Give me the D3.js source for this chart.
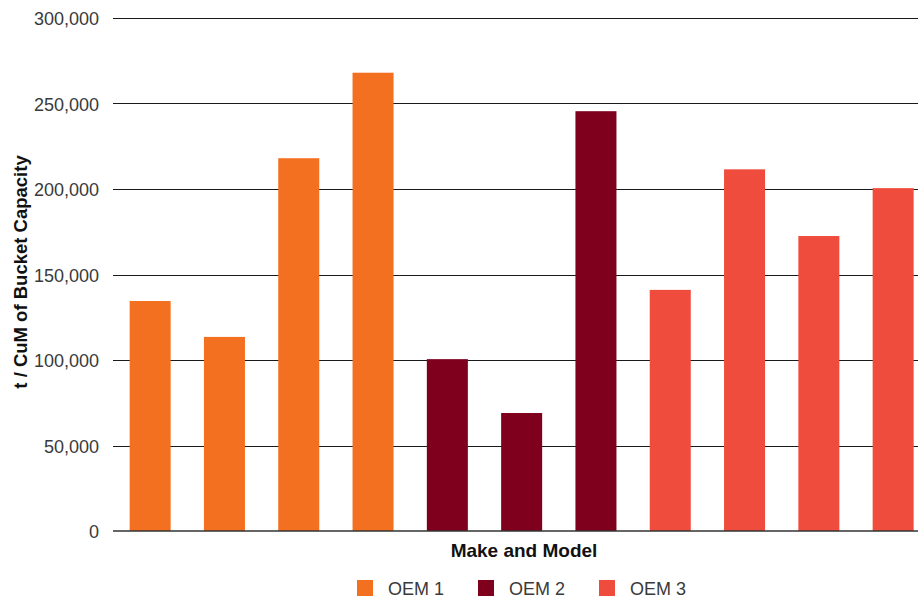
<!DOCTYPE html>
<html>
<head>
<meta charset="utf-8">
<script src="https://cdn.jsdelivr.net/npm/d3@7"></script>
<style>
  html, body { margin: 0; padding: 0; background: #fff; }
  svg { display: block; font-family: "Liberation Sans", Arial, Helvetica, sans-serif; }
</style>
</head>
<body>
<svg id="chart" width="918" height="598"></svg>
<script>
const categories = ["A1", "A2", "A3", "A4", "B1", "B2", "B3", "C1", "C2", "C3", "C4"];
const groups = ["OEM 1", "OEM 1", "OEM 1", "OEM 1", "OEM 2", "OEM 2", "OEM 2", "OEM 3", "OEM 3", "OEM 3", "OEM 3"];
const values = [134500, 113500, 218000, 268000, 100500, 69000, 245500, 141000, 211500, 172500, 200500];
const seriesNames = ["OEM 1", "OEM 2", "OEM 3"];
const seriesColors = ["#F37021", "#7F001C", "#EF4C3D"];
const yTicks = [0, 50000, 100000, 150000, 200000, 250000, 300000];
const xTitle = "Make and Model";
const yTitle = "t / CuM of Bucket Capacity";

const svg = d3.select("#chart");
const W = 918, H = 598;
const mLeft = 113, mTop = 18, mBottom = 531;
const step = 74.3;

const x = d3.scaleBand()
  .domain(categories)
  .range([mLeft, mLeft + categories.length * step])
  .paddingInner(0.448)
  .paddingOuter(0.224);
const y = d3.scaleLinear().domain([0, 300000]).range([mBottom, mTop]);
const color = d3.scaleOrdinal().domain(seriesNames).range(seriesColors);

// gridlines
const grid = svg.append("g");
grid.selectAll("line")
  .data(yTicks.filter(d => d > 0))
  .join("line")
  .attr("x1", mLeft).attr("x2", W)
  .attr("y1", d => Math.round(y(d)) + 0.5)
  .attr("y2", d => Math.round(y(d)) + 0.5)
  .attr("stroke", "#1a1a1a")
  .attr("stroke-width", 1.2);

// y axis labels
const yAxis = d3.axisLeft(y).tickValues(yTicks).tickSize(0).tickPadding(0)
  .tickFormat(d3.format(","));
const yg = svg.append("g").attr("transform", `translate(${mLeft - 14},0)`).call(yAxis);
yg.select(".domain").remove();
yg.selectAll("text")
  .attr("font-size", 18)
  .attr("fill", "#3a3a3a")
  .attr("dy", "0.38em")
  .attr("font-family", "'Liberation Sans', Arial, sans-serif");

// bars
svg.append("g").selectAll("rect")
  .data(categories.map((c, i) => ({c, g: groups[i], v: values[i]})))
  .join("rect")
  .attr("x", d => x(d.c))
  .attr("width", x.bandwidth())
  .attr("y", d => y(d.v))
  .attr("height", d => y(0) - y(d.v))
  .attr("fill", d => color(d.g));

// baseline
svg.append("line")
  .attr("x1", mLeft).attr("x2", W)
  .attr("y1", y(0)).attr("y2", y(0))
  .attr("stroke", "#333").attr("stroke-width", 1.6);

// x title
svg.append("text")
  .attr("x", 524).attr("y", 557)
  .attr("text-anchor", "middle")
  .attr("font-size", 19)
  .attr("font-weight", "bold")
  .attr("fill", "#111")
  .text(xTitle);

// y title
svg.append("text")
  .attr("transform", "translate(26.5,272) rotate(-90)")
  .attr("text-anchor", "middle")
  .attr("font-size", 18.5)
  .attr("font-weight", "bold")
  .attr("fill", "#111")
  .text(yTitle);

// legend
const legX = [357, 478, 599];
const leg = svg.append("g").selectAll("g")
  .data(seriesNames)
  .join("g")
  .attr("transform", (d, i) => `translate(${legX[i]},580)`);
leg.append("rect").attr("width", 16).attr("height", 16).attr("fill", d => color(d));
leg.append("text")
  .attr("x", 31).attr("y", 15)
  .attr("font-size", 18)
  .attr("fill", "#3a3a3a")
  .text(d => d);
</script>
</body>
</html>
